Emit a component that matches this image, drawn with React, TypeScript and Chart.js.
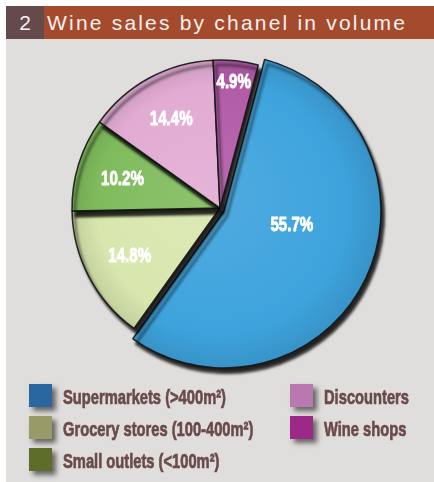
import React, { useEffect, useRef } from 'react';
import { Chart, registerables } from 'chart.js';

Chart.register(...registerables);

const titleNumber = '2';
const titleText = 'Wine sales by chanel in volume';
const categories = [
  'Supermarkets (>400m²)',
  'Grocery stores (100-400m²)',
  'Small outlets (<100m²)',
  'Discounters',
  'Wine shops',
];
const shares = [55.7, 14.8, 10.2, 14.4, 4.9];
const valueLabels = ['55.7%', '14.8%', '10.2%', '14.4%', '4.9%'];
const sliceColors = ['#3ea3dd', '#d8e7ae', '#7fbb5c', '#e2abd3', '#b25ca8'];
const legendColors = ['#2a66a0', '#989a68', '#5c6e2a', '#b978b0', '#9c2888'];
const legendColumns = [[0, 1, 2], [3, 4]];

const FONT = '"Liberation Sans", Arial, sans-serif';
const CLEAR = 'rgba(0,0,0,0)';

function mix(hex: string, target: number, t: number) {
  const n = parseInt(hex.slice(1), 16);
  const ch = [(n >> 16) & 255, (n >> 8) & 255, n & 255].map((v) => Math.round(v + (target - v) * t));
  return `rgb(${ch[0]},${ch[1]},${ch[2]})`;
}

function makeDecor(shown: number[]) {
  return {
    id: 'pieDecor',
    beforeDatasetsDraw(chart: any) {
      const c = chart.ctx;
      c.save();
      c.shadowColor = 'rgba(0,0,0,0.85)';
      c.shadowOffsetX = 3;
      c.shadowOffsetY = 5;
      c.shadowBlur = 3;
    },
    afterDatasetsDraw(chart: any) {
      const c = chart.ctx;
      c.restore();
      const meta = chart.getDatasetMeta(0);
      meta.data.forEach((el: any, i: number) => {
        if (!shown.includes(i)) return;
        const { x, y, startAngle, endAngle, outerRadius } = el.getProps(
          ['x', 'y', 'startAngle', 'endAngle', 'outerRadius'],
          true
        );
        const share = shares[i];
        const big = share > 50;
        const mid = (startAngle + endAngle) / 2 - (big ? 0.25 : 0);
        const frac = big ? 0.44 : share < 6 ? 0.86 : 0.69;
        const r = frac * outerRadius;
        const px = x + Math.cos(mid) * r;
        const py = y + Math.sin(mid) * r;
        c.save();
        c.translate(px, py);
        c.scale(0.72, 1);
        c.font = `bold 21px ${FONT}`;
        c.fillStyle = '#ffffff';
        c.strokeStyle = '#ffffff';
        c.lineWidth = 0.9;
        c.lineJoin = 'round';
        c.textAlign = 'center';
        c.textBaseline = 'middle';
        c.strokeText(valueLabels[i], 0, 1);
        c.fillText(valueLabels[i], 0, 1);
        c.restore();
      });
    },
  };
}

function PieLayer(props: { shown: number[]; radius: number; cx: number; cy: number }) {
  const { shown, radius, cx, cy } = props;
  const ref = useRef<HTMLCanvasElement>(null);
  const W = 400;
  const H = 340;
  useEffect(() => {
    if (!ref.current) return;
    const chart = new Chart(ref.current, {
      type: 'pie',
      data: {
        labels: categories,
        datasets: [
          {
            data: shares,
            backgroundColor: (ctx: any) => {
              const i = ctx.dataIndex;
              if (!shown.includes(i)) return CLEAR;
              const area = ctx.chart.chartArea;
              if (!area) return sliceColors[i];
              const mx = (area.left + area.right) / 2;
              const my = (area.top + area.bottom) / 2;
              const g = ctx.chart.ctx.createRadialGradient(mx - 25, my - 20, 0, mx, my, radius);
              g.addColorStop(0, mix(sliceColors[i], 255, 0.1));
              g.addColorStop(0.8, sliceColors[i]);
              g.addColorStop(1, mix(sliceColors[i], 0, 0.1));
              return g;
            },
            borderColor: sliceColors.map((_, i) => (shown.includes(i) ? 'rgba(20,20,20,0.9)' : CLEAR)),
            borderWidth: 1.5,
          },
        ],
      },
      options: {
        responsive: false,
        animation: false,
        rotation: 15,
        radius: radius,
        layout: { padding: 0 },
        plugins: {
          legend: { display: false },
          tooltip: { enabled: false },
        },
      } as any,
      plugins: [makeDecor(shown)],
    });
    return () => chart.destroy();
  }, []);
  return (
    <canvas
      ref={ref}
      width={W}
      height={H}
      style={{ position: 'absolute', left: cx - W / 2, top: cy - H / 2, width: W, height: H }}
    />
  );
}

export default function App() {
  return (
    <div
      style={{
        position: 'fixed',
        left: 0,
        top: 0,
        width: 434,
        height: 482,
        background: '#ffffff',
        overflow: 'hidden',
      }}
    >
      <div
        style={{
          position: 'absolute',
          left: 6,
          top: 39,
          width: 428,
          height: 443,
          background: '#e0dedc',
        }}
      />
      <PieLayer shown={[0]} radius={157} cx={224} cy={211} />
      <PieLayer shown={[1, 2, 3, 4]} radius={148} cx={220} cy={208} />
      <div
        style={{
          position: 'absolute',
          left: 6,
          top: 6,
          width: 38,
          height: 33,
          background: '#644a4a',
          color: '#f6f0ee',
          fontFamily: FONT,
          fontSize: 21,
          lineHeight: '33px',
          textAlign: 'center',
        }}
      >
        {titleNumber}
      </div>
      <div
        style={{
          position: 'absolute',
          left: 44,
          top: 6,
          width: 390,
          height: 33,
          background: '#a54b2d',
          color: '#f6f0ee',
          fontFamily: FONT,
          fontSize: 21,
          letterSpacing: 2.2,
          lineHeight: '33px',
          paddingLeft: 3,
          boxSizing: 'border-box',
          whiteSpace: 'nowrap',
        }}
      >
        {titleText}
      </div>
      {legendColumns.map((col, ci) =>
        col.map((idx, ri) => (
          <div
            key={idx}
            style={{
              position: 'absolute',
              left: ci === 0 ? 29 : 290,
              top: 384 + ri * 32,
              height: 23,
              display: 'flex',
              alignItems: 'center',
              whiteSpace: 'nowrap',
            }}
          >
            <div
              style={{
                width: 23,
                height: 23,
                background: legendColors[idx],
                boxShadow: '4px 4px 5px rgba(0,0,0,0.55)',
                flex: 'none',
              }}
            />
            <span
              style={{
                marginLeft: 11,
                fontFamily: FONT,
                fontWeight: 'bold',
                fontSize: 21,
                color: '#6a4a4a',
                WebkitTextStroke: '0.7px #6a4a4a',
                display: 'inline-block',
                transform: 'scaleX(0.7)',
                transformOrigin: 'left center',
                lineHeight: '23px',
                paddingTop: 2,
              }}
            >
              {categories[idx]}
            </span>
          </div>
        ))
      )}
    </div>
  );
}
